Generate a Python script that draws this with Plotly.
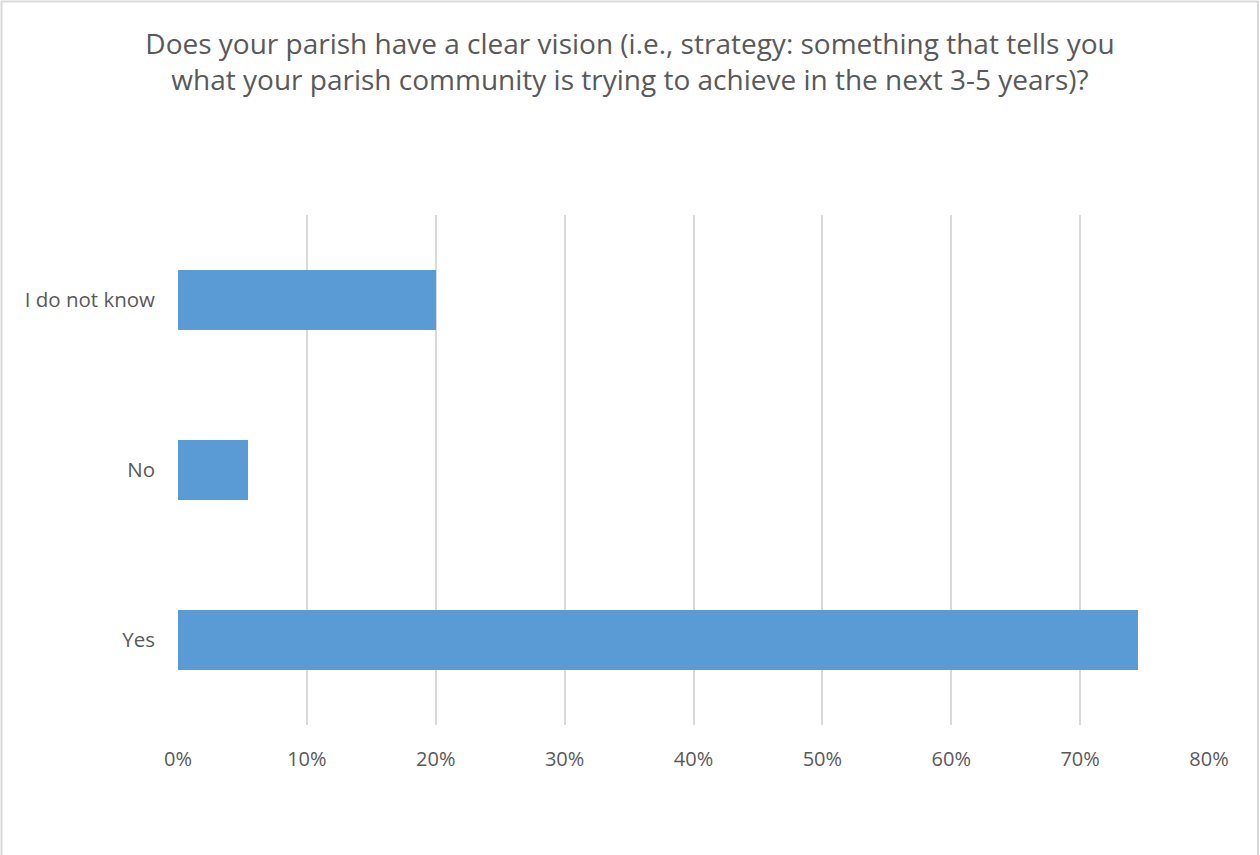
import plotly.graph_objects as go

categories = ["Yes", "No", "I do not know"]
values = [0.745, 0.054, 0.200]
tick_vals = [0, 0.1, 0.2, 0.3, 0.4, 0.5, 0.6, 0.7, 0.8]
tick_text = ["0%", "10%", "20%", "30%", "40%", "50%", "60%", "70%", "80%"]
title_text = ("Does your parish have a clear vision (i.e., strategy: something that tells you<br>"
              "what your parish community is trying to achieve in the next 3-5 years)?")

W, H = 1260, 855
L, R, T, B = 178, 51, 215, 130
pw, ph = W - L - R, H - T - B

def px(x):
    return (x - L) / pw

def py(y):
    return (H - B - y) / ph

fig = go.Figure(go.Bar(
    y=categories, x=values, orientation="h",
    marker=dict(color="#5b9bd5", line=dict(width=0)),
    width=0.353, hoverinfo="skip",
))

fig.update_layout(
    width=W, height=H,
    margin=dict(l=L, r=R, t=T, b=B),
    paper_bgcolor="white", plot_bgcolor="white",
    font=dict(family="Open Sans", color="#595959"),
    title=dict(text=title_text, x=0.5, xanchor="center", xref="container",
               y=1 - 54 / H, yanchor="middle",
               font=dict(size=28, color="#595959", family="Open Sans")),
    showlegend=False,
    bargap=0,
    xaxis=dict(range=[0, 0.8], tickvals=tick_vals, ticktext=tick_text,
               showgrid=True, gridcolor="#d9d9d9", gridwidth=1.5,
               zeroline=False, showline=False, ticks="",
               tickfont=dict(size=20, color="#595959"), ticklabelstandoff=20),
    yaxis=dict(range=[-0.5, 2.5], showgrid=False, zeroline=False, showline=False,
               ticks="", tickfont=dict(size=20.5, color="#595959"), ticklabelstandoff=22),
    shapes=[dict(type="rect", xref="paper", yref="paper",
                 x0=px(1.5), x1=px(1258), y0=py(860), y1=py(1.5),
                 line=dict(color="#d9d9d9", width=2), fillcolor="rgba(0,0,0,0)",
                 layer="below")],
)

fig.write_html("out.html",
               config={"displayModeBar": False},
               post_script="document.body.style.margin='0';document.body.style.padding='0';")
